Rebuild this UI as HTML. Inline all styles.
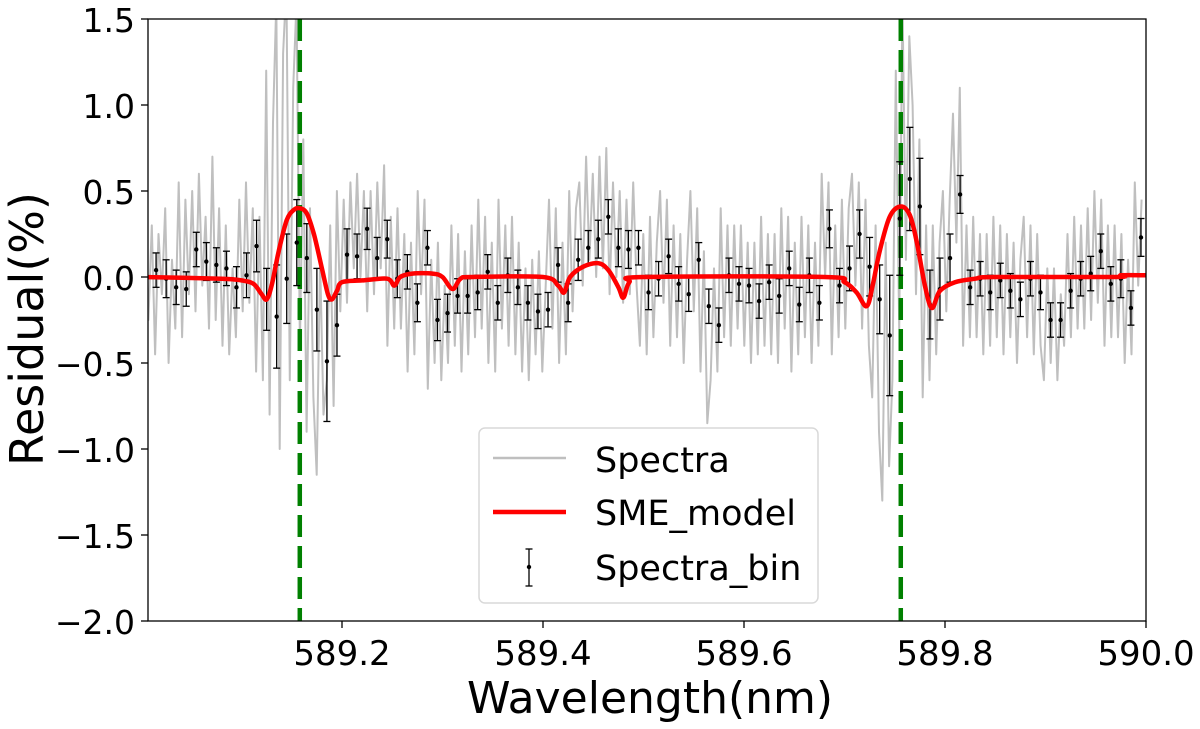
<!DOCTYPE html>
<html><head><meta charset="utf-8"><style>
body{margin:0;background:#fff;}
svg{display:block;font-family:"DejaVu Sans","Liberation Sans",sans-serif;}
</style></head><body>
<svg id="chart" width="1200" height="729" viewBox="0 0 1200 729">
<defs><clipPath id="pc"><rect x="148" y="19" width="998" height="602"/></clipPath></defs>
<g id="plot" clip-path="url(#pc)"></g>
<g id="axes"></g>
<text x="650" y="713" font-size="44" text-anchor="middle">Wavelength(nm)</text>
<text transform="translate(43,329) rotate(-90)" font-size="46" text-anchor="middle">Residual(%)</text>
<g font-size="35">
<rect x="479" y="428" width="339" height="175" rx="6" fill="#fff" fill-opacity="0.85" stroke="#d9d9d9" stroke-width="1.5"/>
<line x1="493" y1="458" x2="566" y2="458" stroke="#bfbfbf" stroke-width="2.5"/>
<text x="595" y="472">Spectra</text>
<line x1="493" y1="512" x2="566" y2="512" stroke="#ff0000" stroke-width="4.5"/>
<text x="595" y="525">SME_model</text>
<g stroke="#000" stroke-width="1.3">
<line x1="529" y1="549" x2="529" y2="586"/><line x1="525.5" y1="549" x2="532.5" y2="549"/><line x1="525.5" y1="586" x2="532.5" y2="586"/>
<circle cx="529" cy="567" r="2.2" fill="#000" stroke="none"/></g>
<text x="595" y="580">Spectra_bin</text>
</g>
</svg>
<script>
const binValues=[0.04,-0.01,-0.06,-0.07,0.16,0.09,0.07,0.05,-0.06,0.01,0.18,-0.13,-0.23,-0.01,0.20,0.11,-0.19,-0.49,-0.28,0.13,0.12,0.28,0.11,0.22,-0.01,0.03,-0.15,0.17,-0.25,-0.21,-0.11,-0.11,-0.09,0.03,-0.15,0.01,-0.06,-0.15,-0.20,-0.19,0.07,-0.15,0.10,0.17,0.22,0.35,0.17,0.16,0.17,
-0.09,-0.01,0.12,-0.04,-0.10,0.10,-0.17,-0.28,0.01,-0.04,-0.05,-0.14,-0.03,-0.11,0.05,-0.16,0.01,-0.15,0.28,-0.05,0.05,0.25,0.06,-0.13,-0.34,0.34,0.57,0.41,-0.16,-0.07,0.11,0.48,-0.06,-0.01,-0.09,-0.02,-0.08,-0.13,-0.01,-0.09,-0.25,-0.25,-0.08,-0.01,0.02,0.15,-0.04,-0.01,-0.18,0.23];
const binErrors=[0.1,0.11,0.1,0.1,0.1,0.11,0.1,0.1,0.12,0.13,0.15,0.18,0.3,0.26,0.25,0.2,0.24,0.35,0.18,0.15,0.13,0.12,0.12,0.11,0.11,0.1,0.11,0.1,0.12,0.11,0.1,0.1,0.1,0.1,0.1,0.1,0.1,0.1,0.1,0.1,0.1,0.11,0.12,0.1,0.11,0.1,0.11,0.11,0.1,
0.1,0.1,0.1,0.1,0.1,0.1,0.1,0.1,0.1,0.1,0.1,0.1,0.1,0.1,0.1,0.1,0.1,0.1,0.11,0.1,0.13,0.14,0.17,0.2,0.35,0.33,0.3,0.28,0.2,0.18,0.14,0.11,0.1,0.1,0.1,0.1,0.1,0.1,0.1,0.1,0.1,0.1,0.1,0.1,0.1,0.1,0.1,0.11,0.1,0.11];
const binStart=589.015, binStep=0.01;
const spectraValues=[0.35,-0.25,0.30,-0.45,0.25,-0.10,0.40,-0.50,0.10,-0.30,0.55,-0.35,0.45,-0.10,0.50,-0.20,0.60,-0.05,0.35,-0.30,0.70,-0.25,0.40,-0.40,0.30,-0.45,0.05,-0.35,0.45,-0.20,0.55,-0.15,0.40,-0.55,0.35,-0.60,1.20,-0.80,0.90,1.60,-1.00,1.30,1.70,-0.60,1.10,1.60,-0.40,0.80,-0.90,0.40,-0.70,-1.15,0.10,-0.80,-0.60,0.30,-0.75,0.50,-0.20,0.45,-0.15,0.55,0.05,0.60,0.00,0.50,-0.20,0.50,-0.10,0.55,0.05,0.65,-0.40,0.35,-0.30,0.40,-0.30,0.25,-0.55,0.20,-0.45,0.50,-0.10,0.45,-0.65,0.10,-0.50,0.20,-0.60,-0.05,-0.50,0.30,-0.40,0.25,-0.55,0.15,-0.45,0.30,-0.35,0.45,-0.30,0.35,-0.50,0.20,-0.55,0.45,-0.30,0.30,-0.40,0.35,-0.45,0.20,-0.55,0.05,-0.60,0.10,-0.45,0.15,-0.55,-0.05,0.45,-0.30,0.40,-0.50,0.20,-0.45,0.50,-0.20,0.40,0.55,-0.05,0.70,0.10,0.60,0.00,0.70,0.05,0.75,-0.10,0.55,0.00,0.50,-0.15,0.45,-0.10,0.55,-0.05,
-0.40,0.25,-0.45,0.35,-0.35,0.20,0.50,-0.15,0.45,-0.40,0.30,-0.35,0.25,-0.50,0.10,0.50,-0.20,0.40,-0.55,0.15,-0.85,-0.60,0.05,-0.55,0.40,-0.35,0.30,-0.40,0.30,-0.30,0.30,-0.40,0.20,-0.50,0.20,-0.45,0.35,-0.40,0.25,-0.45,0.25,-0.50,0.40,-0.30,0.35,-0.55,0.20,-0.45,0.35,-0.35,0.30,-0.50,0.20,-0.40,0.60,0.00,0.55,-0.45,0.30,-0.35,0.45,-0.30,0.40,0.60,-0.05,0.55,-0.30,0.45,-0.40,-0.70,0.30,-0.90,-1.30,0.20,-1.10,-0.60,1.20,-0.30,1.60,0.10,1.40,1.00,-0.10,0.80,-0.70,0.30,-0.60,0.30,-0.45,0.20,0.50,-0.20,0.45,0.95,0.20,1.10,-0.40,0.30,-0.35,0.35,-0.35,0.25,-0.45,0.25,-0.40,0.35,-0.35,0.30,-0.45,0.25,-0.35,0.20,-0.50,0.10,0.35,-0.35,0.30,-0.45,0.25,-0.40,-0.60,0.05,-0.50,0.05,-0.60,-0.10,-0.40,0.25,-0.35,0.35,-0.30,0.30,-0.30,0.40,-0.25,0.50,-0.15,0.45,-0.40,0.30,-0.35,0.30,-0.35,0.25,-0.50,0.10,-0.45,0.55,-0.05,0.45];
const spectraStart=589.004, spectraStep=0.00335;
const modelWl=[589.0,589.08,589.10,589.112,589.12,589.125,589.13,589.137,589.145,589.152,589.158,589.165,589.172,589.18,589.186,589.19,589.195,589.20,589.22,589.245,589.252,589.258,589.27,589.29,589.30,589.31,589.318,589.33,589.40,589.415,589.421,589.427,589.44,589.455,589.465,589.475,589.48,589.486,589.50,589.68,589.70,589.712,589.722,589.728,589.735,589.745,589.756,589.765,589.772,589.78,589.787,589.795,589.81,589.83,589.85,589.97,589.975,590.0];
const modelValues=[0,-0.01,-0.02,-0.04,-0.10,-0.13,-0.05,0.15,0.33,0.39,0.40,0.37,0.25,0.05,-0.10,-0.13,-0.08,-0.03,-0.02,-0.01,-0.05,0.0,0.02,0.02,0.0,-0.07,-0.01,0.0,0.0,-0.05,-0.09,0.0,0.06,0.08,0.04,-0.06,-0.12,-0.03,0.0,0.0,-0.03,-0.09,-0.17,-0.05,0.15,0.35,0.41,0.36,0.20,-0.05,-0.18,-0.08,-0.03,-0.01,0.0,0.0,0.01,0.01];
const naLines=[589.158,589.756];
const xTicks=[589.2,589.4,589.6,589.8,590.0];
const xTickLabels=["589.2","589.4","589.6","589.8","590.0"];
const yTicks=[1.5,1.0,0.5,0.0,-0.5,-1.0,-1.5,-2.0];
const yTickLabels=["1.5","1.0","0.5","0.0","\u22120.5","\u22121.0","\u22121.5","\u22122.0"];

const NS="http://www.w3.org/2000/svg";
const X=v=>141+(v-589.0)*1005;
const Y=v=>277-v*172;
function mk(tag,attrs,parent){const e=document.createElementNS(NS,tag);for(const k in attrs)e.setAttribute(k,attrs[k]);parent.appendChild(e);return e;}
const plot=document.getElementById('plot'), axes=document.getElementById('axes');

let d=spectraValues.map((v,i)=>(i?'L':'M')+X(spectraStart+i*spectraStep).toFixed(1)+','+Y(v).toFixed(1)).join('');
let sp=mk('path',{d:d,fill:'none',stroke:'#bfbfbf','stroke-width':2,'stroke-linejoin':'round'},plot);



naLines.forEach(w=>{
 const l=mk('line',{x1:X(w),x2:X(w),y1:19,y2:621,stroke:'#008000','stroke-width':4.5,'stroke-dasharray':'22 9'},plot);
 
 
});

binValues.forEach((v,i)=>{
 const g=mk('g',{},plot);
 
 
 const x=X(binStart+i*binStep), e=binErrors[i];
 mk('line',{x1:x,x2:x,y1:Y(v+e),y2:Y(v-e),stroke:'#000','stroke-width':1.3},g);
 mk('line',{x1:x-3.5,x2:x+3.5,y1:Y(v+e),y2:Y(v+e),stroke:'#000','stroke-width':1.3},g);
 mk('line',{x1:x-3.5,x2:x+3.5,y1:Y(v-e),y2:Y(v-e),stroke:'#000','stroke-width':1.3},g);
 mk('circle',{cx:x,cy:Y(v),r:2.2,fill:'#000'},g);
});

const P=modelValues.map((v,i)=>[X(modelWl[i]),Y(v)]);
d='M'+P[0][0]+','+P[0][1];
for(let i=0;i<P.length-1;i++){
 const p0=P[Math.max(0,i-1)],p1=P[i],p2=P[i+1],p3=P[Math.min(P.length-1,i+2)];
 const c1=[p1[0]+(p2[0]-p0[0])/6,p1[1]+(p2[1]-p0[1])/6];
 const c2=[p2[0]-(p3[0]-p1[0])/6,p2[1]-(p3[1]-p1[1])/6];
 d+='C'+c1[0].toFixed(1)+','+c1[1].toFixed(1)+' '+c2[0].toFixed(1)+','+c2[1].toFixed(1)+' '+p2[0].toFixed(1)+','+p2[1].toFixed(1);
}
const md=mk('path',{d:d,fill:'none',stroke:'#ff0000','stroke-width':4.5,'stroke-linejoin':'round','stroke-linecap':'round'},plot);



const fr=mk('rect',{x:148,y:19,width:998,height:602,fill:'none',stroke:'#000','stroke-width':1.3},axes);



xTicks.forEach((t,i)=>{
 const x=X(t);
 mk('line',{x1:x,x2:x,y1:621,y2:628,stroke:'#000','stroke-width':1.3},axes);
 const tx=mk('text',{x:x,y:665,'font-size':34,'text-anchor':'middle'},axes);
 tx.textContent=xTickLabels[i];
 
 
});
yTicks.forEach((t,i)=>{
 const y=Y(t);
 mk('line',{x1:141,x2:148,y1:y,y2:y,stroke:'#000','stroke-width':1.3},axes);
 const tx=mk('text',{x:135,y:y+13,'font-size':33,'text-anchor':'end'},axes);
 tx.textContent=yTickLabels[i];
 
 
});
</script>
</body></html>
